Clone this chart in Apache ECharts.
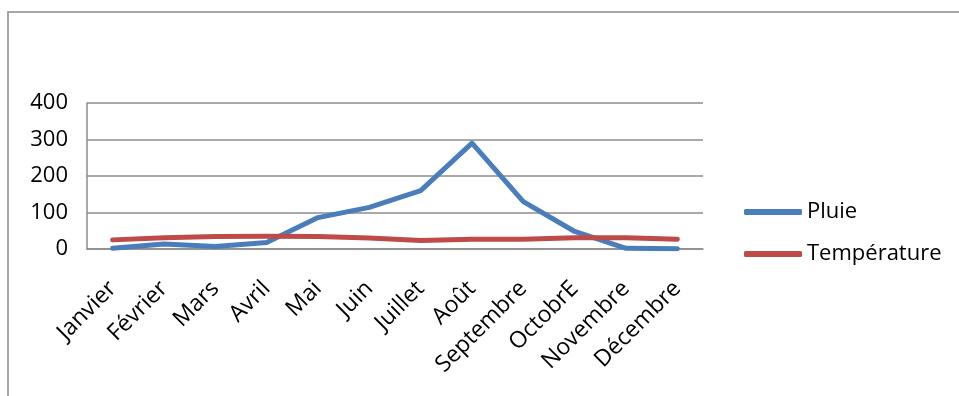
<!DOCTYPE html>
<html>
<head>
<meta charset="utf-8">
<script src="https://cdn.jsdelivr.net/npm/echarts@6/dist/echarts.min.js"></script>
<style>
    html, body { margin: 0; padding: 0; background: #fff; }
    #chart { width: 959px; height: 396px; }
</style>
</head>
<body>
<div id="chart"></div>
<script>
const months = ['Janvier', 'Février', 'Mars', 'Avril', 'Mai', 'Juin', 'Juillet', 'Août', 'Septembre', 'OctobrE', 'Novembre', 'Décembre']
const pluie = [2, 14, 7, 18, 86, 114, 160, 290, 130, 48, 2, 1]
const temperature = [25, 31, 34, 35, 34, 30, 23, 27, 27, 31, 31, 27]
const yTicks = [0, 100, 200, 300, 400]

const font = "'Open Sans', 'Noto Sans', sans-serif"
const gridColor = '#8c8c8c'

const myChart = echarts.init(document.getElementById('chart'))

myChart.setOption({
    animation: false,
    textStyle: { fontFamily: font },
    // cadre gris en haut et a gauche
    graphic: [{
        type: 'polyline',
        shape: { points: [[8, 396], [8, 12], [959, 12]] },
        style: { stroke: '#a6a6a6', lineWidth: 2, fill: null }
    }],
    grid: {
        left: 87,
        right: 256,
        top: 103,
        height: 146
    },
    legend: {
        orient: 'vertical',
        left: 739,
        top: 194,
        icon: 'roundRect',
        itemWidth: 58,
        itemHeight: 6,
        itemGap: 16,
        textStyle: {
            fontFamily: font,
            fontSize: 22,
            lineHeight: 26,
            color: '#000',
            padding: [0, 0, 0, 0]
        },
        data: ['Pluie', 'Température']
    },
    xAxis: {
        type: 'category',
        data: months,
        boundaryGap: true,
        axisLine: { lineStyle: { color: gridColor, width: 1.5 } },
        axisTick: { show: false },
        axisLabel: {
            rotate: 45,
            interval: 0,
            margin: 36,
            fontFamily: font,
            fontSize: 23,
            color: '#000'
        }
    },
    yAxis: {
        type: 'value',
        min: yTicks[0],
        max: yTicks[yTicks.length - 1],
        interval: 100,
        axisLine: { show: true, lineStyle: { color: gridColor, width: 1.5 } },
        axisTick: { show: false },
        splitLine: { lineStyle: { color: gridColor, width: 1.5 } },
        axisLabel: {
            margin: 19,
            fontFamily: font,
            fontSize: 22,
            color: '#000'
        }
    },
    series: [{
        name: 'Pluie',
        type: 'line',
        data: pluie,
        symbol: 'none',
        lineStyle: { color: '#4a7ebb', width: 5, join: 'round', cap: 'round' },
        itemStyle: { color: '#4a7ebb' }
    }, {
        name: 'Température',
        type: 'line',
        data: temperature,
        symbol: 'none',
        lineStyle: { color: '#be4b48', width: 5, join: 'round', cap: 'round' },
        itemStyle: { color: '#be4b48' }
    }]
})
</script>
</body>
</html>
